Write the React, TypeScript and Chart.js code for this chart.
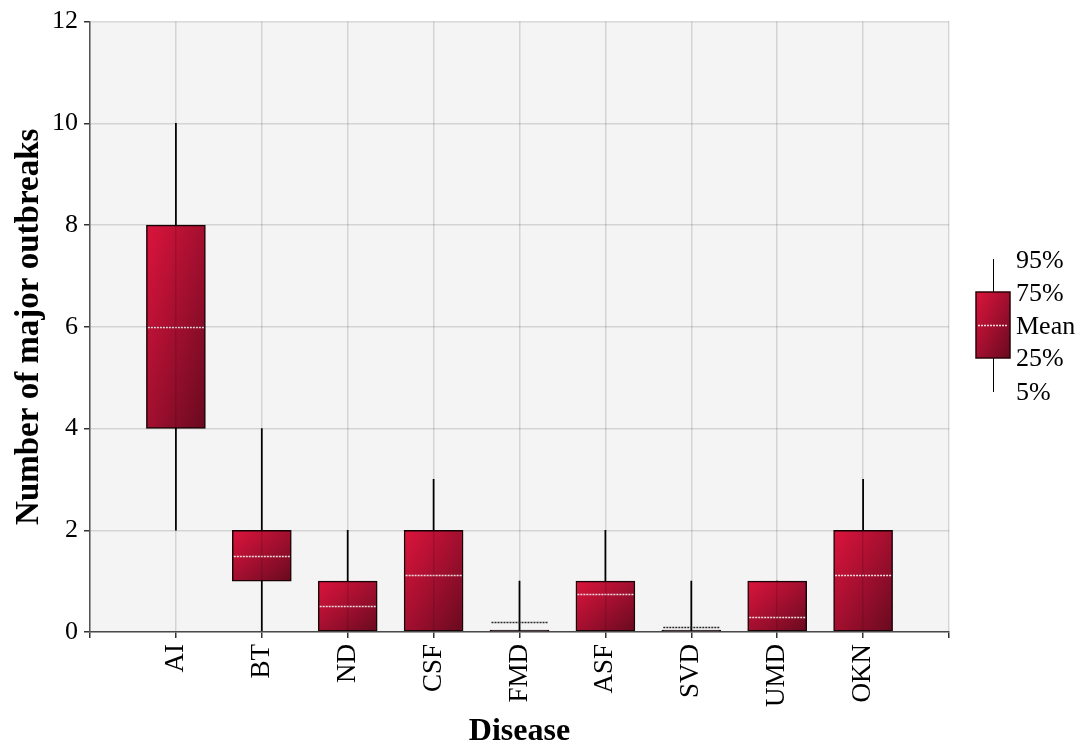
import React, { useEffect, useRef } from 'react';
import { Chart, registerables } from 'chart.js';

Chart.register(...registerables);

// ---- data ----
const diseases = ['AI', 'BT', 'ND', 'CSF', 'FMD', 'ASF', 'SVD', 'UMD', 'OKN'];
const p5 = [2, 0, 0, 0, 0, 0, 0, 0, 0];
const q1 = [4, 1, 0, 0, 0, 0, 0, 0, 0];
const q3 = [8, 2, 1, 2, 0, 1, 0, 1, 2];
const p95 = [10, 4, 2, 3, 1, 2, 1, 1, 3];
const means = [6, 1.5, 0.52, 1.13, 0.2, 0.75, 0.1, 0.3, 1.13];
const legendLabels = ['95%', '75%', 'Mean', '25%', '5%'];

const FONT = "'Liberation Serif', 'Times New Roman', serif";
const BOX_W = 59;
const GRID = 'rgba(0,0,0,0.13)';

function makeGradient(ctx: CanvasRenderingContext2D, x0: number, y0: number, w: number, h: number) {
  if (![x0, y0, w, h].every((v) => Number.isFinite(v))) return '#a30f2f';
  let g: CanvasGradient;
  if (h < 3) {
    g = ctx.createLinearGradient(x0, y0, x0 + w, y0);
  } else {
    const L2 = w * w + h * h;
    const k = (2 * w * h) / L2;
    g = ctx.createLinearGradient(x0, y0, x0 + h * k, y0 + w * k);
  }
  g.addColorStop(0, '#dc143c');
  g.addColorStop(0.5, '#a30f2f');
  g.addColorStop(1, '#680a1f');
  return g;
}

const decorPlugin = {
  id: 'boxDecor',
  beforeDraw(chart: any) {
    const { ctx, chartArea: a } = chart;
    ctx.save();
    ctx.fillStyle = '#f4f4f4';
    ctx.fillRect(a.left, a.top, a.right - a.left, a.bottom - a.top);
    ctx.restore();
  },
  afterDatasetsDraw(chart: any) {
    const { ctx } = chart;
    const ys = chart.scales.y;
    const meta = chart.getDatasetMeta(1);
    ctx.save();
    meta.data.forEach((el: any, i: number) => {
      const { x, width } = el.getProps(['x', 'width'], true);
      const y = Math.round(ys.getPixelForValue(means[i])) + 0.5;
      const flat = q3[i] - q1[i] === 0;
      ctx.beginPath();
      ctx.lineWidth = 1.4;
      ctx.strokeStyle = flat ? '#2a2a2a' : '#f0dde0';
      ctx.setLineDash([2, 1]);
      ctx.moveTo(x - width / 2 + 1.5, y);
      ctx.lineTo(x + width / 2 - 1.5, y);
      ctx.stroke();
    });
    ctx.restore();
  },
  afterDraw(chart: any) {
    const { ctx, chartArea: a } = chart;
    const lx = a.right + 27;
    const bw = 34;
    const cx = lx + bw / 2;
    const top = 292;
    const bot = 358;
    ctx.save();
    ctx.beginPath();
    ctx.strokeStyle = '#000';
    ctx.lineWidth = 1;
    ctx.moveTo(Math.round(cx) + 0.5, 259);
    ctx.lineTo(Math.round(cx) + 0.5, 392);
    ctx.stroke();
    ctx.fillStyle = makeGradient(ctx, lx, top, bw, bot - top);
    ctx.fillRect(lx, top, bw, bot - top);
    ctx.strokeStyle = '#2a0508';
    ctx.lineWidth = 1.5;
    ctx.strokeRect(lx, top, bw, bot - top);
    ctx.beginPath();
    ctx.setLineDash([2, 1]);
    ctx.strokeStyle = '#f0dde0';
    ctx.lineWidth = 1.4;
    ctx.moveTo(lx + 2, 325.5);
    ctx.lineTo(lx + bw - 2, 325.5);
    ctx.stroke();
    ctx.setLineDash([]);
    ctx.fillStyle = '#000';
    ctx.font = `26px ${FONT}`;
    ctx.textAlign = 'left';
    ctx.textBaseline = 'middle';
    const ly = [261, 294, 327, 359, 393];
    legendLabels.forEach((t, i) => ctx.fillText(t, lx + 40, ly[i]));
    ctx.restore();
  },
};

export default function App() {
  const ref = useRef<HTMLCanvasElement | null>(null);

  useEffect(() => {
    if (!ref.current) return;
    const whiskerData = diseases.map((_, i) => ({ x: i + 1, y: [p5[i], p95[i]] }));
    const boxData = diseases.map((_, i) => ({ x: i + 1, y: [q1[i], q3[i]] }));

    const chart = new Chart(ref.current, {
      type: 'bar',
      data: {
        datasets: [
          {
            label: 'whisker',
            data: whiskerData as any,
            backgroundColor: '#000',
            borderWidth: 0,
            barThickness: 1.1,
            grouped: false,
            order: 2,
          } as any,
          {
            label: 'box',
            data: boxData as any,
            backgroundColor: (c: any) => {
              const chart = c.chart;
              const xs = chart.scales?.x;
              const ys = chart.scales?.y;
              if (!xs || !ys || c.type !== 'data') return '#a30f2f';
              const i = c.dataIndex;
              if (q3[i] - q1[i] === 0) return '#1a0306';
              const x = xs.getPixelForValue(i + 1);
              const t = ys.getPixelForValue(q3[i]);
              const b = ys.getPixelForValue(q1[i]);
              return makeGradient(chart.ctx, x - BOX_W / 2, t, BOX_W, b - t);
            },
            borderColor: '#1a0306',
            borderWidth: 1.5,
            borderSkipped: false,
            barThickness: BOX_W,
            minBarLength: 2,
            grouped: false,
            order: 1,
          } as any,
        ],
      },
      options: {
        animation: false,
        responsive: false,
        layout: { padding: { top: 20, right: 134, left: 0, bottom: 0 } },
        plugins: {
          legend: { display: false },
          tooltip: { enabled: false },
        },
        scales: {
          x: {
            type: 'linear',
            min: 0,
            max: 10,
            offset: false,
            afterFit: (s: any) => {
              s.height = 119;
            },
            ticks: {
              stepSize: 1,
              autoSkip: false,
              maxRotation: 90,
              minRotation: 90,
              padding: 6,
              color: '#000',
              font: { family: FONT, size: 27 },
              callback: (v: any) => diseases[Number(v) - 1] ?? '',
            },
            grid: {
              offset: false,
              color: GRID,
              lineWidth: 1.5,
              z: 1,
              tickColor: '#333',
              tickLength: 6,
            },
            border: { color: '#555', width: 1.5, z: 1 },
            title: {
              display: true,
              text: 'Disease',
              color: '#000',
              font: { family: FONT, size: 32, weight: 'bold' },
              padding: { top: 0, bottom: 0 },
            },
          },
          y: {
            min: 0,
            max: 12,
            afterFit: (s: any) => {
              s.width = 90;
            },
            ticks: {
              stepSize: 2,
              padding: 6,
              color: '#000',
              font: { family: FONT, size: 26 },
            },
            grid: {
              color: GRID,
              lineWidth: 1.5,
              z: 1,
              tickColor: '#333',
              tickLength: 6,
            },
            border: { color: '#555', width: 1.5, z: 1 },
            title: {
              display: true,
              text: 'Number of major outbreaks',
              color: '#000',
              font: { family: FONT, size: 33, weight: 'bold' },
              padding: { top: 10, bottom: 0 },
            },
          },
        },
      } as any,
      plugins: [decorPlugin],
    });
    return () => chart.destroy();
  }, []);

  return (
    <div style={{ position: 'fixed', left: 0, top: 0, width: 1083, height: 751, background: '#fff' }}>
      <canvas ref={ref} width={1083} height={751} style={{ display: 'block' }} />
    </div>
  );
}
